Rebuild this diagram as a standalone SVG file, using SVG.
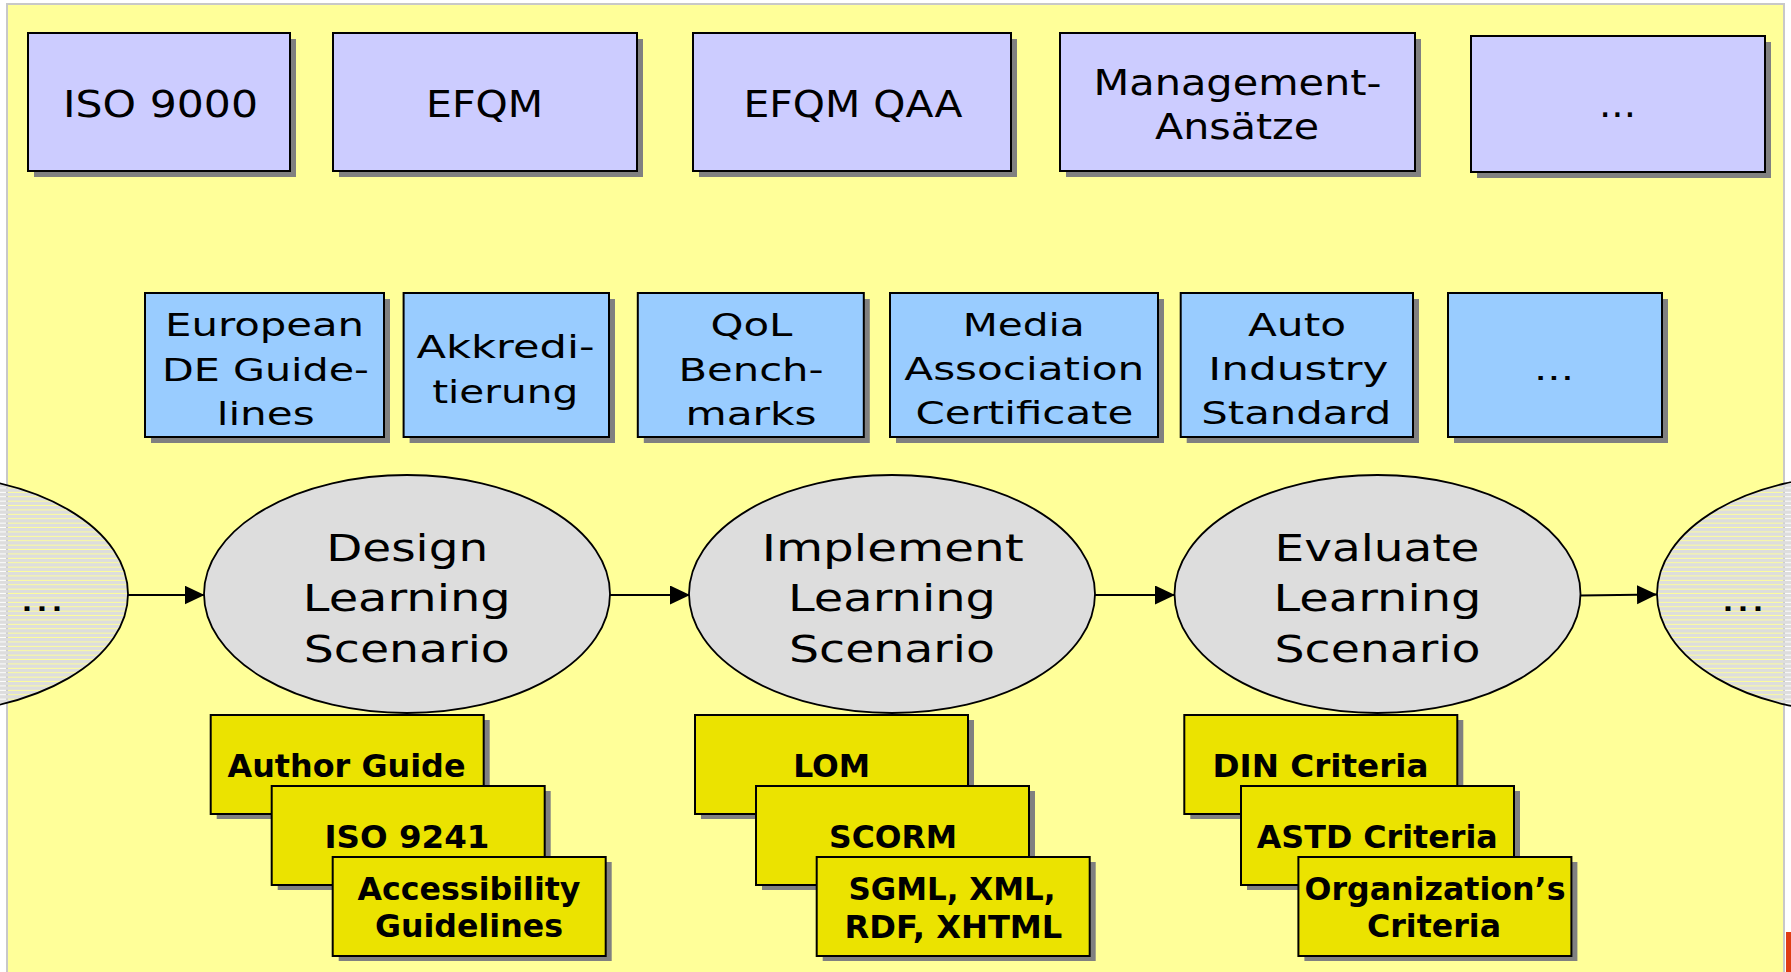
<svg xmlns="http://www.w3.org/2000/svg" width="1791" height="972" viewBox="0 0 1791 972">
<style>
text{font-family:"DejaVu Sans","Liberation Sans",sans-serif;fill:#000;text-anchor:middle}
.t1{font-size:37px}
.t1m{font-size:36px}
.t2{font-size:32px}
.te{font-size:37.5px}
.tb{font-size:31.5px;font-weight:bold}
.sh{fill:#808080}
.b1{fill:#CCCCFF;stroke:#000;stroke-width:2}
.b2{fill:#99CCFF;stroke:#000;stroke-width:2}
.b3{fill:#EBE300;stroke:#000;stroke-width:2}
.el{fill:#DDDDDD;stroke:#000;stroke-width:1.8}
.elp{fill:url(#stripes);stroke:#000;stroke-width:1.8}
.cn{stroke:#000;stroke-width:2;fill:none;marker-end:url(#arr)}
</style>
<defs>
<pattern id="stripes" width="10" height="4.4" patternUnits="userSpaceOnUse"><rect width="10" height="3.4" fill="#DDDDDD"/></pattern>
<marker id="arr" markerUnits="userSpaceOnUse" markerWidth="22" markerHeight="20" refX="20" refY="9.5" orient="auto"><path d="M0,0 L20,9.5 L0,19 z" fill="#000"/></marker>
</defs>
<rect x="0" y="0" width="1791" height="972" fill="#FFFFFF"/>
<rect id="frame" x="7" y="4" width="1777" height="990" fill="#FFFF99" stroke="#C8C8C8" stroke-width="2"/>
<rect x="1786" y="932" width="5" height="40" fill="#E03C14"/>

<g id="iso9000"><rect class="sh" x="34" y="39" width="262" height="138"/><rect class="b1" x="28" y="33" width="262" height="138"/><text class="t1" x="160.5" y="117" textLength="195" lengthAdjust="spacingAndGlyphs">ISO 9000</text></g>
<g id="efqm"><rect class="sh" x="339" y="39" width="304" height="138"/><rect class="b1" x="333" y="33" width="304" height="138"/><text class="t1" x="484.6" y="117" textLength="117" lengthAdjust="spacingAndGlyphs">EFQM</text></g>
<g id="efqmqaa"><rect class="sh" x="699" y="39" width="318" height="138"/><rect class="b1" x="693" y="33" width="318" height="138"/><text class="t1" x="853" y="117" textLength="219" lengthAdjust="spacingAndGlyphs">EFQM QAA</text></g>
<g id="management"><rect class="sh" x="1066" y="39" width="355" height="138"/><rect class="b1" x="1060" y="33" width="355" height="138"/><text class="t1m" x="1237.5" y="95" textLength="288" lengthAdjust="spacingAndGlyphs">Management-</text><text class="t1m" x="1237" y="139" textLength="164" lengthAdjust="spacingAndGlyphs">Ansätze</text></g>
<g id="top-more"><rect class="sh" x="1477" y="42" width="294" height="136"/><rect class="b1" x="1471" y="36" width="294" height="136"/><text class="t1" x="1617.5" y="117" textLength="37" lengthAdjust="spacingAndGlyphs">...</text></g>

<g id="european"><rect class="sh" x="151" y="299" width="239" height="144"/><rect class="b2" x="145" y="293" width="239" height="144"/><text class="t2" x="264.6" y="335.7" textLength="199" lengthAdjust="spacingAndGlyphs">European</text><text class="t2" x="265.5" y="380.7" textLength="207" lengthAdjust="spacingAndGlyphs">DE Guide-</text><text class="t2" x="265.7" y="425" textLength="98" lengthAdjust="spacingAndGlyphs">lines</text></g>
<g id="akkreditierung"><rect class="sh" x="409.6" y="299" width="205.4" height="144"/><rect class="b2" x="403.6" y="293" width="205.4" height="144"/><text class="t2" x="505.5" y="358.3" textLength="178" lengthAdjust="spacingAndGlyphs">Akkredi-</text><text class="t2" x="505.2" y="402.5" textLength="146" lengthAdjust="spacingAndGlyphs">tierung</text></g>
<g id="qol"><rect class="sh" x="643.8" y="299" width="226" height="144"/><rect class="b2" x="637.8" y="293" width="226" height="144"/><text class="t2" x="751.4" y="335.7" textLength="82" lengthAdjust="spacingAndGlyphs">QoL</text><text class="t2" x="751" y="380.7" textLength="145" lengthAdjust="spacingAndGlyphs">Bench-</text><text class="t2" x="751" y="425" textLength="131" lengthAdjust="spacingAndGlyphs">marks</text></g>
<g id="media"><rect class="sh" x="896" y="299" width="268" height="144"/><rect class="b2" x="890" y="293" width="268" height="144"/><text class="t2" x="1023.7" y="335.7" textLength="122" lengthAdjust="spacingAndGlyphs">Media</text><text class="t2" x="1024.3" y="380" textLength="240" lengthAdjust="spacingAndGlyphs">Association</text><text class="t2" x="1024.4" y="424.3" textLength="218" lengthAdjust="spacingAndGlyphs">Certificate</text></g>
<g id="auto"><rect class="sh" x="1186.7" y="299" width="232.3" height="144"/><rect class="b2" x="1180.7" y="293" width="232.3" height="144"/><text class="t2" x="1297" y="335.7" textLength="98" lengthAdjust="spacingAndGlyphs">Auto</text><text class="t2" x="1298.3" y="380" textLength="180" lengthAdjust="spacingAndGlyphs">Industry</text><text class="t2" x="1296.3" y="424.3" textLength="190" lengthAdjust="spacingAndGlyphs">Standard</text></g>
<g id="mid-more"><rect class="sh" x="1454" y="299" width="214" height="144"/><rect class="b2" x="1448" y="293" width="214" height="144"/><text class="t2" x="1554" y="379.5" textLength="40" lengthAdjust="spacingAndGlyphs">...</text></g>

<g id="connectors">
<line class="cn" x1="128" y1="595" x2="204.5" y2="595"/>
<line class="cn" x1="610" y1="595" x2="690" y2="595"/>
<line class="cn" x1="1095" y1="595" x2="1175" y2="595"/>
<line class="cn" x1="1580" y1="595.5" x2="1657" y2="594.5"/>
</g>

<g id="prev"><ellipse class="elp" cx="-75" cy="594" rx="203" ry="119"/><text class="te" x="42" y="611" textLength="45" lengthAdjust="spacingAndGlyphs">...</text></g>
<g id="design"><ellipse class="el" cx="407" cy="594" rx="203" ry="119"/><text class="te" x="407.2" y="560.7" textLength="162" lengthAdjust="spacingAndGlyphs">Design</text><text class="te" x="406.8" y="610.7" textLength="208" lengthAdjust="spacingAndGlyphs">Learning</text><text class="te" x="406.8" y="662" textLength="206" lengthAdjust="spacingAndGlyphs">Scenario</text></g>
<g id="implement"><ellipse class="el" cx="892" cy="594" rx="203" ry="119"/><text class="te" x="892.7" y="560.7" textLength="262" lengthAdjust="spacingAndGlyphs">Implement</text><text class="te" x="892" y="610.7" textLength="208" lengthAdjust="spacingAndGlyphs">Learning</text><text class="te" x="892" y="662" textLength="206" lengthAdjust="spacingAndGlyphs">Scenario</text></g>
<g id="evaluate"><ellipse class="el" cx="1377.5" cy="594" rx="203" ry="119"/><text class="te" x="1377" y="560.7" textLength="205" lengthAdjust="spacingAndGlyphs">Evaluate</text><text class="te" x="1377.5" y="610.7" textLength="208" lengthAdjust="spacingAndGlyphs">Learning</text><text class="te" x="1377.5" y="662" textLength="206" lengthAdjust="spacingAndGlyphs">Scenario</text></g>
<g id="next"><ellipse class="elp" cx="1860" cy="594" rx="203" ry="119"/><text class="te" x="1743" y="611" textLength="45" lengthAdjust="spacingAndGlyphs">...</text></g>

<g id="authorguide"><rect class="sh" x="216.7" y="720" width="273" height="99"/><rect class="b3" x="210.7" y="715" width="273" height="99"/><text class="tb" x="346.5" y="777.3" textLength="238" lengthAdjust="spacingAndGlyphs">Author Guide</text></g>
<g id="iso9241"><rect class="sh" x="277.7" y="791" width="273" height="99"/><rect class="b3" x="271.7" y="786" width="273" height="99"/><text class="tb" x="407" y="847.7" textLength="165" lengthAdjust="spacingAndGlyphs">ISO 9241</text></g>
<g id="accessibility"><rect class="sh" x="338.7" y="862" width="273" height="99"/><rect class="b3" x="332.7" y="857" width="273" height="99"/><text class="tb" x="469" y="900" textLength="223" lengthAdjust="spacingAndGlyphs">Accessibility</text><text class="tb" x="469" y="937.3" textLength="188" lengthAdjust="spacingAndGlyphs">Guidelines</text></g>

<g id="lom"><rect class="sh" x="701" y="720" width="273" height="99"/><rect class="b3" x="695" y="715" width="273" height="99"/><text class="tb" x="831.7" y="777.3" textLength="77" lengthAdjust="spacingAndGlyphs">LOM</text></g>
<g id="scorm"><rect class="sh" x="762" y="791" width="273" height="99"/><rect class="b3" x="756" y="786" width="273" height="99"/><text class="tb" x="893" y="847.7" textLength="128" lengthAdjust="spacingAndGlyphs">SCORM</text></g>
<g id="sgml"><rect class="sh" x="822.7" y="862" width="273" height="99"/><rect class="b3" x="816.7" y="857" width="273" height="99"/><text class="tb" x="952" y="900" textLength="207" lengthAdjust="spacingAndGlyphs">SGML, XML,</text><text class="tb" x="953.4" y="938" textLength="218" lengthAdjust="spacingAndGlyphs">RDF, XHTML</text></g>

<g id="din"><rect class="sh" x="1190.3" y="720" width="273" height="99"/><rect class="b3" x="1184.3" y="715" width="273" height="99"/><text class="tb" x="1320.5" y="777" textLength="216" lengthAdjust="spacingAndGlyphs">DIN Criteria</text></g>
<g id="astd"><rect class="sh" x="1247" y="791" width="273" height="99"/><rect class="b3" x="1241" y="786" width="273" height="99"/><text class="tb" x="1377.3" y="848" textLength="241" lengthAdjust="spacingAndGlyphs">ASTD Criteria</text></g>
<g id="organization"><rect class="sh" x="1304.4" y="862" width="273" height="99"/><rect class="b3" x="1298.4" y="857" width="273" height="99"/><text class="tb" x="1435" y="900" textLength="261" lengthAdjust="spacingAndGlyphs">Organization’s</text><text class="tb" x="1434" y="937" textLength="134" lengthAdjust="spacingAndGlyphs">Criteria</text></g>
</svg>
